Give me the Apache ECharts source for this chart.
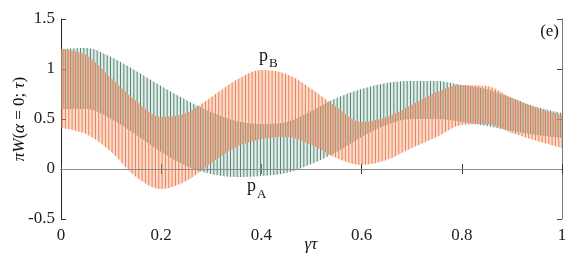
<!DOCTYPE html>
<html><head><meta charset="utf-8">
<script src="https://cdn.jsdelivr.net/npm/echarts@6/dist/echarts.min.js"></script>
<style>html,body{margin:0;padding:0;background:#fff}#c{width:581px;height:256px}</style>
</head><body><div id="c"></div>
<script>
// x positions (gamma*tau) where envelopes were read
const xs = [0, 0.05, 0.1, 0.15, 0.2, 0.25, 0.3, 0.35, 0.4, 0.45, 0.5, 0.55, 0.6, 0.65, 0.7, 0.75, 0.8, 0.85, 0.9, 0.95, 1];
// p_A (green) oscillation envelope
const aUpper = [1.20, 1.21, 1.12, 0.98, 0.83, 0.69, 0.57, 0.48, 0.45, 0.47, 0.58, 0.71, 0.80, 0.86, 0.88, 0.88, 0.84, 0.80, 0.71, 0.62, 0.56];
const aLower = [0.60, 0.60, 0.50, 0.34, 0.17, 0.03, -0.05, -0.08, -0.07, -0.04, 0.05, 0.17, 0.32, 0.44, 0.50, 0.50, 0.47, 0.43, 0.38, 0.34, 0.31];
// p_B (orange) oscillation envelope
const bUpper = [1.20, 1.14, 0.91, 0.68, 0.52, 0.56, 0.72, 0.89, 0.99, 0.95, 0.80, 0.62, 0.47, 0.52, 0.64, 0.77, 0.84, 0.83, 0.71, 0.61, 0.54];
const bLower = [0.41, 0.35, 0.17, -0.08, -0.20, -0.12, 0.06, 0.22, 0.30, 0.32, 0.24, 0.11, 0.04, 0.09, 0.21, 0.32, 0.44, 0.45, 0.36, 0.28, 0.21];
const xTicks = ['0', '0.2', '0.4', '0.6', '0.8', '1'];
const yTicks = [-0.5, 0, 0.5, 1, 1.5];

function stripes(light, dark, offset) {
  const c = document.createElement('canvas');
  c.width = 10; c.height = 4;
  const g = c.getContext('2d');
  g.fillStyle = light; g.fillRect(0, 0, 10, 4);
  g.fillStyle = dark;
  for (let k = -1; k < 4; k++) {
    const x = offset + k * 10 / 3;
    g.fillRect(x, 0, 1.0, 4);
  }
  return { image: c, repeat: 'repeat' };
}
const patA = stripes('rgba(178,210,197,0.42)', 'rgba(36,96,74,0.72)', 0);
const patB = stripes('rgba(250,172,138,0.42)', 'rgba(226,94,38,0.72)', 1.6);

const cats = xs.map(x => String(x));
function diff(u, l) { return u.map((v, i) => +(v - l[i]).toFixed(4)); }

const serif = '"Liberation Serif", "Times New Roman", Times, serif';
const chart = echarts.init(document.getElementById('c'), null, { renderer: 'canvas' });
const baseSeries = (name, stack, data, area) => ({
  name, type: 'line', stack, stackStrategy: 'all', data, smooth: 0.35,
  showSymbol: false, symbol: 'none', lineStyle: { opacity: 0, width: 0 },
  areaStyle: area ? { color: area, opacity: 1 } : undefined,
  animation: false, silent: true
});
const catAxis = (pos, color, labels) => ({
  type: 'category', data: cats, boundaryGap: false, position: pos,
  axisLine: { show: true, lineStyle: { color, width: 1 } },
  axisTick: { show: true, inside: true, length: 5, interval: 3, alignWithLabel: true, lineStyle: { color: '#333' } },
  axisLabel: labels ? { show: true, interval: 3, color: '#222', fontFamily: serif, fontSize: 17, margin: 8,
    formatter: v => xTicks.includes(v) ? v : '' } : { show: false },
  splitLine: { show: false }
});
chart.setOption({
  animation: false,
  grid: { left: 61, right: 19, top: 19, bottom: 37 },
  xAxis: [catAxis('bottom', '#555', true), catAxis('top', '#777', false)],
  yAxis: [
    { type: 'value', min: -0.5, max: 1.5, interval: 0.5, position: 'left',
      axisLine: { show: true, lineStyle: { color: '#222', width: 1 } },
      axisTick: { show: true, inside: true, length: 5, lineStyle: { color: '#333' } },
      axisLabel: { color: '#222', fontFamily: serif, fontSize: 17, margin: 6,
        formatter: v => yTicks.includes(+v.toFixed(2)) ? String(+v.toFixed(2)) : '' },
      splitLine: { show: false } },
    { type: 'value', min: -0.5, max: 1.5, interval: 0.5, position: 'right',
      axisLine: { show: true, lineStyle: { color: '#777', width: 1 } },
      axisTick: { show: true, inside: true, length: 5, lineStyle: { color: '#444' } },
      axisLabel: { show: false }, splitLine: { show: false } }
  ],
  series: [
    Object.assign(baseSeries('aLow', 'A', aLower, null), {
      markLine: { silent: true, symbol: 'none', label: { show: false },
        lineStyle: { color: '#8c8c8c', width: 1, type: 'solid' },
        data: [{ yAxis: 0 }], animation: false }
    }),
    baseSeries('aBand', 'A', diff(aUpper, aLower), patA),
    baseSeries('bLow', 'B', bLower, null),
    baseSeries('bBand', 'B', diff(bUpper, bLower), patB)
  ],
  graphic: [
    { type: 'text', x: 20, y: 119, rotation: Math.PI / 2,
      style: { text: '{i|πW}{n|(}{i|α}{n| = 0; }{i|τ}{n|)}', align: 'center', verticalAlign: 'middle',
        fill: '#111', font: '17px ' + serif,
        rich: { i: { fontFamily: serif, fontSize: 17, fontStyle: 'italic', fill: '#111' },
                n: { fontFamily: serif, fontSize: 17, fill: '#111' } } } },
    { type: 'text', x: 311, y: 245,
      style: { text: 'γτ', align: 'center', verticalAlign: 'middle', fill: '#111',
        font: 'italic 17px ' + serif } },
    { type: 'text', x: 259, y: 56, style: { text: 'p', align: 'left', verticalAlign: 'middle', fill: '#111', font: '18px ' + serif } },
    { type: 'text', x: 269, y: 64, style: { text: 'B', align: 'left', verticalAlign: 'middle', fill: '#111', font: '13px ' + serif } },
    { type: 'text', x: 247, y: 186, style: { text: 'p', align: 'left', verticalAlign: 'middle', fill: '#111', font: '18px ' + serif } },
    { type: 'text', x: 257, y: 195, style: { text: 'A', align: 'left', verticalAlign: 'middle', fill: '#111', font: '13px ' + serif } },
    { type: 'text', x: 559, y: 32, style: { text: '(e)', align: 'right', verticalAlign: 'middle', fill: '#111', font: '17px ' + serif } }
  ]
});
</script>
</body></html>
